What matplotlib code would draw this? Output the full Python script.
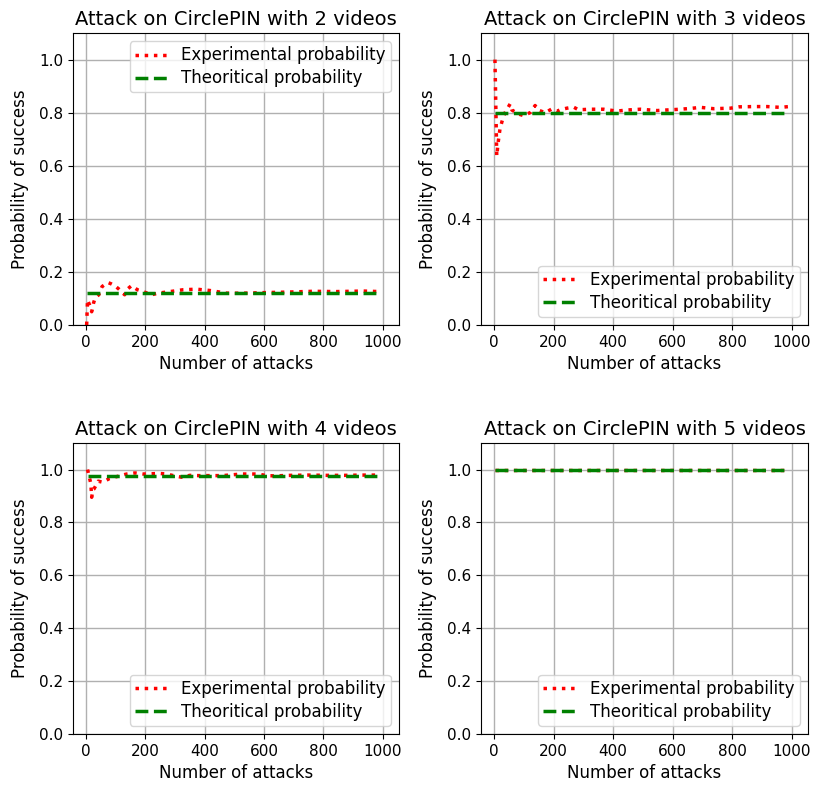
import matplotlib
matplotlib.use("Agg")
import matplotlib.pyplot as plt

video_counts = [2, 3, 4, 5]
theoretical = [0.12, 0.80, 0.977, 1.0]

exp2_x = [2, 5, 12, 19, 25, 30, 35, 43, 49, 54, 63, 74, 85, 97, 110, 130, 139, 153, 173, 195, 220, 243, 283, 328, 373, 418, 474, 530, 597, 676, 765, 844, 934, 990]
exp2_y = [0.0, 0.095, 0.075, 0.05, 0.082, 0.10, 0.107, 0.114, 0.133, 0.145, 0.152, 0.16, 0.155, 0.148, 0.136, 0.114, 0.135, 0.148, 0.133, 0.125, 0.114, 0.12, 0.126, 0.133, 0.135, 0.13, 0.12, 0.12, 0.122, 0.124, 0.127, 0.126, 0.128, 0.126]

exp3_x = [3, 9, 14, 20, 28, 37, 54, 60, 82, 99, 121, 138, 148, 172, 194, 211, 222, 245, 267, 284, 323, 368, 413, 447, 492, 548, 593, 626, 660, 694, 738, 795, 823, 873, 918, 963, 991]
exp3_y = [1.0, 0.637, 0.69, 0.74, 0.772, 0.80, 0.833, 0.81, 0.795, 0.789, 0.80, 0.827, 0.81, 0.80, 0.814, 0.805, 0.811, 0.817, 0.821, 0.811, 0.813, 0.813, 0.806, 0.81, 0.813, 0.808, 0.811, 0.813, 0.816, 0.82, 0.815, 0.817, 0.822, 0.823, 0.823, 0.82, 0.823]

exp4_x = [5, 16, 19, 23, 27, 41, 56, 79, 109, 137, 165, 193, 249, 272, 294, 322, 350, 378, 406, 460, 524, 580, 608, 636, 690, 750, 810, 870, 930, 990]
exp4_y = [1.0, 0.947, 0.895, 0.924, 0.927, 0.956, 0.952, 0.966, 0.975, 0.983, 0.987, 0.983, 0.985, 0.983, 0.977, 0.971, 0.978, 0.977, 0.977, 0.977, 0.983, 0.983, 0.977, 0.976, 0.978, 0.979, 0.978, 0.978, 0.979, 0.979]

exp5_x = [2, 990]
exp5_y = [1.0, 1.0]

exp_x = [exp2_x, exp3_x, exp4_x, exp5_x]
exp_y = [exp2_y, exp3_y, exp4_y, exp5_y]
legend_locs = ["upper right", "lower right", "lower right", "lower right"]

fig = plt.figure(figsize=(8.13, 7.87), dpi=100)
positions = [
    [0.0898, 0.587, 0.401, 0.371],
    [0.5916, 0.587, 0.4022, 0.371],
    [0.0898, 0.0673, 0.401, 0.3697],
    [0.5916, 0.0673, 0.4022, 0.3697],
]

for i, n in enumerate(video_counts):
    ax = fig.add_axes(positions[i])
    ax.plot(exp_x[i], exp_y[i], color="red", linestyle=":", linewidth=2.5,
            label="Experimental probability")
    ax.plot([exp_x[i][0], exp_x[i][-1]], [theoretical[i], theoretical[i]],
            color="green", linestyle="--", linewidth=2.5,
            label="Theoritical probability")
    ax.set_xlim(-44, 1055)
    ax.set_ylim(0, 1.1)
    ax.set_xticks([0, 200, 400, 600, 800, 1000])
    ax.set_yticks([0.0, 0.2, 0.4, 0.6, 0.8, 1.0])
    ax.grid(True, color="#b0b0b0", linewidth=1.0)
    ax.tick_params(labelsize=11)
    ax.set_title(f"Attack on CirclePIN with {n} videos", fontsize=14)
    ax.set_xlabel("Number of attacks", fontsize=12, labelpad=4)
    ax.set_ylabel("Probability of success", fontsize=12, labelpad=7)
    ax.legend(loc=legend_locs[i], fontsize=12, borderpad=0.3, labelspacing=0.3)

fig.savefig("out.png", dpi=100)
